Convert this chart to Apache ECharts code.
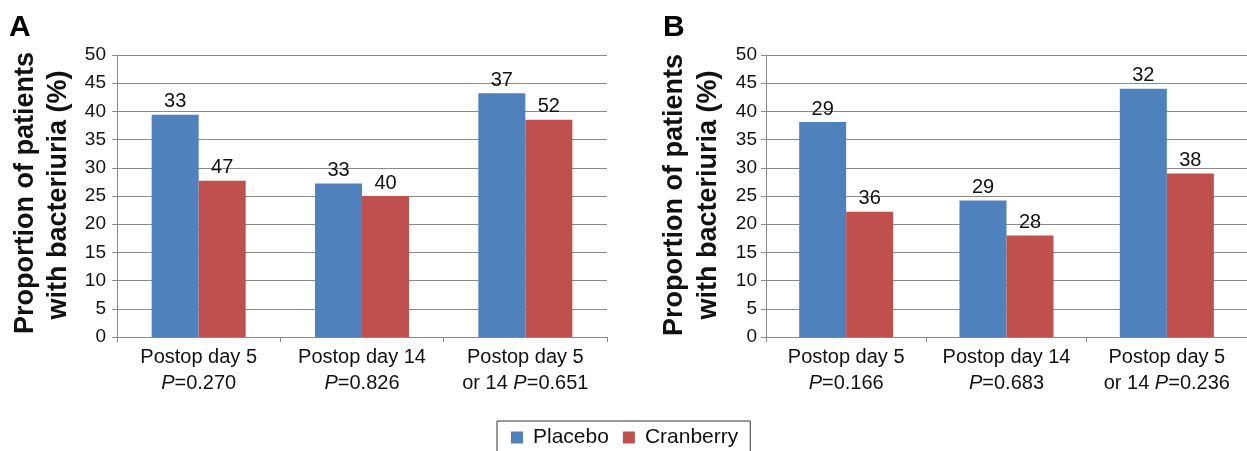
<!DOCTYPE html>
<html>
<head>
<meta charset="utf-8">
<script src="https://cdn.jsdelivr.net/npm/echarts@6/dist/echarts.min.js"></script>
<style>
html,body{margin:0;padding:0;background:#fff;}
#chart{width:1247px;height:451px;}
</style>
</head>
<body>
<div id="chart"></div>
<script>
// ---- data ----
var categoriesA = ['Postop day 5\n{i|P}=0.270', 'Postop day 14\n{i|P}=0.826', 'Postop day 5\nor 14 {i|P}=0.651'];
var categoriesB = ['Postop day 5\n{i|P}=0.166', 'Postop day 14\n{i|P}=0.683', 'Postop day 5\nor 14 {i|P}=0.236'];
var placeboA = [39.4, 27.2, 43.2];
var cranberryA = [27.7, 25.0, 38.5];
var placeboB = [38.1, 24.2, 44.0];
var cranberryB = [22.2, 18.0, 29.0];
var placeboNA = [33, 33, 37];
var cranberryNA = [47, 40, 52];
var placeboNB = [29, 29, 32];
var cranberryNB = [36, 28, 38];
var yTicks = [0, 5, 10, 15, 20, 25, 30, 35, 40, 45, 50];
var seriesNames = ['Placebo', 'Cranberry'];
var yTitle1 = 'Proportion of patients';
var yTitle2 = 'with bacteriuria (%)';

var FONT = "'Liberation Sans', Arial, sans-serif";
var BLUE = '#4f81bd', RED = '#c0504d', GRID = '#8a8a8a';

function xAxisFor(idx, cats) {
  return {
    type: 'category', gridIndex: idx, data: cats,
    axisLine: {lineStyle: {color: GRID, width: 1}},
    axisTick: {show: true, alignWithLabel: false, length: 5, lineStyle: {color: GRID}},
    axisLabel: {
      color: '#111', fontFamily: FONT, fontSize: 20, lineHeight: 26, margin: 7, interval: 0,
      rich: {i: {fontStyle: 'italic', fontFamily: FONT, fontSize: 20, lineHeight: 26, color: '#111'}}
    }
  };
}
function yAxisFor(idx, margin) {
  return {
    type: 'value', gridIndex: idx, min: yTicks[0], max: yTicks[yTicks.length - 1], interval: 5,
    axisLine: {show: true, lineStyle: {color: GRID, width: 1}},
    axisTick: {show: true, length: 5, lineStyle: {color: GRID}},
    splitLine: {show: true, lineStyle: {color: GRID, width: 1}},
    axisLabel: {color: '#111', fontFamily: FONT, fontSize: 19, margin: margin}
  };
}
function barSeries(name, color, data, nLabels, idx) {
  return {
    name: name, type: 'bar', xAxisIndex: idx, yAxisIndex: idx, data: data,
    barWidth: 47, barGap: '0%',
    itemStyle: {color: color},
    label: {
      show: true, position: 'top', distance: 3, color: '#111', fontFamily: FONT, fontSize: 20,
      formatter: function (p) { return String(nLabels[p.dataIndex]); }
    },
    emphasis: {disabled: true}
  };
}
var titleStyle = {fontFamily: FONT, fontSize: 27, fontWeight: 'bold', fill: '#111', align: 'center', verticalAlign: 'middle'};

var chart = echarts.init(document.getElementById('chart'));
chart.setOption({
  animation: false,
  grid: [
    {left: 117, top: 55, width: 490, height: 282},
    {left: 766, top: 55, width: 492, height: 282}
  ],
  xAxis: [xAxisFor(0, categoriesA), xAxisFor(1, categoriesB)],
  yAxis: [yAxisFor(0, 11), yAxisFor(1, 9)],
  legend: {
    data: seriesNames, left: 497, top: 421, orient: 'horizontal',
    icon: 'rect', itemWidth: 12, itemHeight: 12, itemGap: 14,
    padding: [6, 12, 10, 14], borderColor: '#333', borderWidth: 1,
    textStyle: {fontFamily: FONT, fontSize: 21, color: '#111', padding: [0, 0, 0, 5]}
  },
  series: [
    barSeries(seriesNames[0], BLUE, placeboA, placeboNA, 0),
    barSeries(seriesNames[1], RED, cranberryA, cranberryNA, 0),
    barSeries(seriesNames[0], BLUE, placeboB, placeboNB, 1),
    barSeries(seriesNames[1], RED, cranberryB, cranberryNB, 1)
  ],
  graphic: [
    {type: 'text', left: 9, top: 13, style: {text: 'A', fontFamily: FONT, fontSize: 30, fontWeight: 'bold', fill: '#000'}},
    {type: 'text', left: 663, top: 13, style: {text: 'B', fontFamily: FONT, fontSize: 30, fontWeight: 'bold', fill: '#000'}},
    {type: 'text', x: 26, y: 193, rotation: Math.PI / 2, style: Object.assign({text: yTitle1}, titleStyle)},
    {type: 'text', x: 59, y: 195, rotation: Math.PI / 2, style: Object.assign({text: yTitle2}, titleStyle)},
    {type: 'text', x: 675, y: 195, rotation: Math.PI / 2, style: Object.assign({text: yTitle1}, titleStyle)},
    {type: 'text', x: 709, y: 195, rotation: Math.PI / 2, style: Object.assign({text: yTitle2}, titleStyle)}
  ]
});
</script>
</body>
</html>
